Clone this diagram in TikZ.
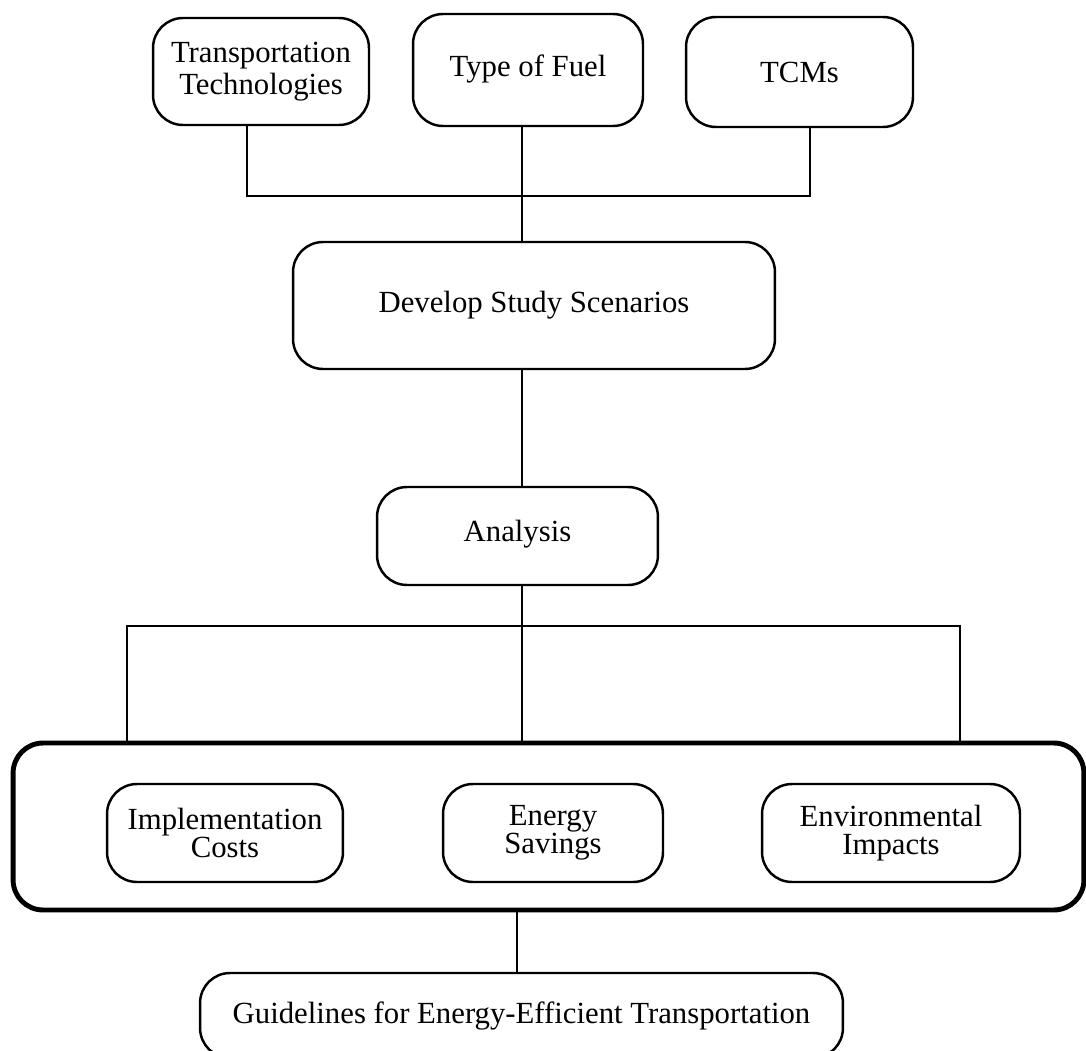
\documentclass[tikz,border=0pt]{standalone}
\usepackage{fontspec}
\setmainfont{Liberation Serif}
\usepackage{tikz}

\begin{document}
\begin{tikzpicture}[x=0.02cm,y=-0.02cm,
  box/.style={draw,line width=1.4pt,rounded corners=0.6cm,align=center,inner sep=0pt,
    font=\fontsize{17.5}{18.2}\selectfont},
  smallbox/.style={box,minimum height=1.96cm,font=\fontsize{17.5}{15.9}\selectfont},
  wire/.style={line width=1.1pt}]
\useasboundingbox (0,0) rectangle (1086,1051);
% inputs
\node[box,minimum width=4.32cm,minimum height=2.14cm] (tech) at (261,71.5) {Transportation\\Technologies};
\node[box,minimum width=4.6cm,minimum height=2.24cm,text depth=0.45em] (fuel) at (528,70) {Type of Fuel};
\node[box,minimum width=4.54cm,minimum height=2.2cm] (tcms) at (799.5,72) {TCMs};
\node[box,minimum width=9.64cm,minimum height=2.54cm] (dev) at (534,305.5) {Develop Study Scenarios};
\node[box,minimum width=5.62cm,minimum height=1.96cm,text depth=0.6em] (ana) at (517.5,536) {Analysis};
% results
\node[draw,line width=2.8pt,rounded corners=0.6cm,minimum width=21.42cm,minimum height=3.34cm] (results) at (548.5,826.5) {};
\node[smallbox,minimum width=4.72cm] (cost) at (225,833) {Implementation\\Costs};
\node[smallbox,minimum width=4.4cm] (save) at (553,833) {Energy\\Savings};
\node[smallbox,minimum width=5.16cm] (env) at (891,833) {Environmental\\Impacts};
\node[box,minimum width=12.86cm,minimum height=1.7cm] (guide) at (521.5,1015.5) {Guidelines for Energy-Efficient Transportation};
% connectors
\coordinate (topbus) at (522,196);
\coordinate (lowbus) at (522,626);
\draw[wire] (247,0 |- tech.south) |- (topbus) -| (810,0 |- tcms.south);
\draw[wire] (522,0 |- fuel.south) -- (522,0 |- dev.north);
\draw[wire] (522,0 |- dev.south) -- (522,0 |- ana.north);
\draw[wire] (522,0 |- ana.south) -- (522,0 |- results.north);
\draw[wire] (127,0 |- results.north) |- (lowbus) -| (960,0 |- results.north);
\draw[wire] (517,0 |- results.south) -- (517,0 |- guide.north);
\end{tikzpicture}
\end{document}
